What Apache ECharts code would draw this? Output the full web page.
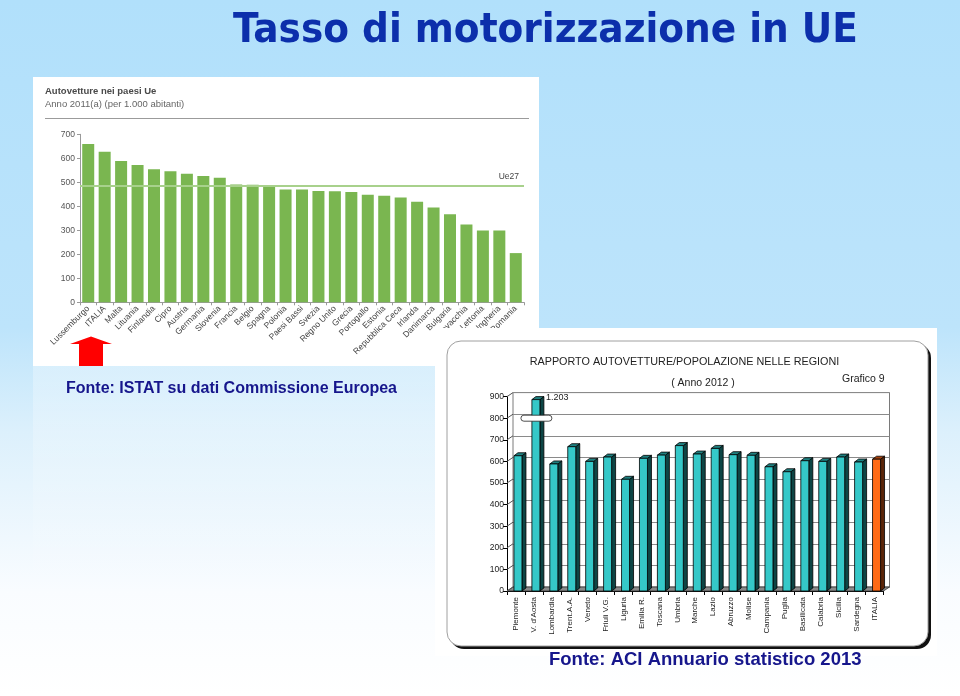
<!DOCTYPE html>
<html>
<head>
<meta charset="utf-8">
<script src="https://cdn.jsdelivr.net/npm/echarts@6/dist/echarts.min.js"></script>
<style>html,body{margin:0;padding:0;background:#fff}#c{width:960px;height:696px}</style>
</head>
<body>
<div id="c"></div>
<script>
// ---- Data: left chart (Autovetture nei paesi Ue, 2011, per 1.000 abitanti)
const euCountries = ['Lussemburgo','ITALIA','Malta','Lituania','Finlandia','Cipro','Austria','Germania','Slovenia','Francia','Belgio','Spagna','Polonia','Paesi Bassi','Svezia','Regno Unito','Grecia','Portogallo','Estonia','Repubblica Ceca','Irlanda','Danimarca','Bulgaria','Slovacchia','Lettonia','Ungheria','Romania'];
const euValues = [660, 627, 589, 572, 554, 546, 536, 526, 519, 491, 490, 486, 470, 470, 464, 463, 460, 448, 444, 437, 419, 395, 367, 324, 299, 299, 205];
const euAverage = 485;            // Ue27
const euAxisMax = 700;
const euAxisStep = 100;

// ---- Data: right chart (Rapporto autovetture/popolazione nelle regioni, 2012)
const regions = ['Piemonte',"V. d'Aosta",'Lombardia','Trent.A.A.','Veneto','Friuli V.G.','Liguria','Emilia R.','Toscana','Umbria','Marche','Lazio','Abruzzo','Molise','Campania','Puglia','Basilicata','Calabria','Sicilia','Sardegna','ITALIA'];
const regionValues = [640, 1203, 602, 682, 614, 634, 531, 628, 643, 687, 648, 674, 645, 642, 589, 566, 617, 614, 634, 611, 624];
const regionTicks = [0, 100, 200, 300, 400, 500, 600, 700, 800, 900];
const regionAxisMax = 900;
const breakValue = 800;

// ---- Style constants
const SANS = '"Liberation Sans", Arial, Helvetica, sans-serif';
const wallDx = 6, wallDy = 4;
const frontGrid = {left: 507, top: 396.6, width: 376.5, height: 194.4};

// Fit title font to target width
function fitTitleFont(text, targetWidth) {
  const cv = document.createElement('canvas').getContext('2d');
  cv.font = 'bold 100px "DejaVu Sans Condensed", monospace';
  const a = cv.measureText(text).width;
  cv.font = 'bold 100px monospace';
  const b = cv.measureText(text).width;
  let fam = (Math.abs(a - b) > 1) ? '"DejaVu Sans Condensed"' : '"Liberation Sans", Arial';
  cv.font = 'bold 100px ' + fam;
  const w = cv.measureText(text).width;
  const size = 100 * targetWidth / w;
  return 'bold ' + size.toFixed(1) + 'px ' + fam;
}
const titleText = 'Tasso di motorizzazione in UE';
const titleFont = fitTitleFont(titleText, 625);

function fmtIt(n) { return String(n).replace(/\B(?=(\d{3})+(?!\d))/g, '.'); }

function renderWalls(params, api) {
  const cs = params.coordSys;
  const t = api.value(1);
  const p = api.coord([0, t]);
  const y = p[1];
  const children = [];
  if (t === 0) {
    children.push({type: 'polygon', shape: {points: [[cs.x, y], [cs.x + wallDx, y - wallDy], [cs.x + cs.width + wallDx, y - wallDy], [cs.x + cs.width, y]]},
      style: {fill: '#8a8a8a', stroke: '#333', lineWidth: 0.8}});
  }
  children.push({type: 'line', shape: {x1: cs.x, y1: y, x2: cs.x + wallDx, y2: y - wallDy}, style: {stroke: '#555', lineWidth: 1}});
  return {type: 'group', children: children};
}

function renderRegionBar(params, api) {
  const i = api.value(0);
  const raw = api.value(1);
  const shown = Math.min(raw, regionAxisMax);
  const pTop = api.coord([i, shown]);
  const pBase = api.coord([i, 0]);
  const cx = pTop[0];
  const dx = 4, dy = 3;
  const fl = cx - 2, fr = cx + 6;
  const ft = pTop[1] + dy;
  const fb = pBase[1];
  const isItaly = regions[i] === 'ITALIA';
  const front = isItaly ? '#ff6a16' : '#35c8c8';
  const side = isItaly ? '#5a2508' : '#0d4545';
  const topc = isItaly ? '#a8420c' : '#1f8080';
  const children = [
    {type: 'polygon', shape: {points: [[fr, ft], [fr + dx, ft - dy], [fr + dx, fb - dy], [fr, fb]]}, style: {fill: side, stroke: '#000', lineWidth: 0.8}},
    {type: 'polygon', shape: {points: [[fl, ft], [fl + dx, ft - dy], [fr + dx, ft - dy], [fr, ft]]}, style: {fill: topc, stroke: '#000', lineWidth: 0.8}},
    {type: 'rect', shape: {x: fl, y: ft, width: fr - fl, height: fb - ft}, style: {fill: front, stroke: '#000', lineWidth: 0.8}}
  ];
  if (raw > regionAxisMax) {
    const pb = api.coord([i, breakValue]);
    children.push({type: 'rect', shape: {x: cx - 13, y: pb[1] - 3, width: 31, height: 6, r: 3}, style: {fill: '#fff', stroke: '#222', lineWidth: 0.8}});
    children.push({type: 'text', style: {text: fmtIt(raw), x: fr + dx + 2, y: pTop[1] + 1, fill: '#222', font: '9px ' + SANS, align: 'left', verticalAlign: 'middle'}});
  }
  return {type: 'group', children: children};
}

function txt(x, y, text, font, fill, align, z) {
  return {type: 'text', x: x, y: y, z: z, silent: true,
    style: {text: text, font: font, fill: fill, align: align || 'left', textAlign: align || 'left', verticalAlign: 'middle', textVerticalAlign: 'middle'}};
}

const chart = echarts.init(document.getElementById('c'), null, {renderer: 'canvas', width: 960, height: 696});

const option = {
  animation: false,
  backgroundColor: '#ffffff',
  graphic: {elements: [
    {type: 'rect', z: -20, silent: true, shape: {x: 0, y: 0, width: 960, height: 696},
      style: {fill: {type: 'linear', x: 0, y: 0, x2: 0, y2: 1, colorStops: [
        {offset: 0, color: '#b1e0fb'}, {offset: 0.47, color: '#bde4fb'}, {offset: 0.62, color: '#dcf0fc'},
        {offset: 0.85, color: '#f9fcff'}, {offset: 1, color: '#ffffff'}]}}},
    {type: 'rect', z: -19, silent: true, shape: {x: 33, y: 366, width: 402, height: 250},
      style: {fill: {type: 'linear', x: 0, y: 0, x2: 0, y2: 1, colorStops: [
        {offset: 0, color: 'rgba(255,255,255,0.3)'}, {offset: 1, color: 'rgba(255,255,255,0)'}]}}},
    {type: 'rect', z: -18, silent: true, shape: {x: 33, y: 77, width: 506, height: 289}, style: {fill: '#ffffff'}},
    txt(45, 91, 'Autovetture nei paesi Ue', 'bold 9.5px ' + SANS, '#4a4a4a', 'left', -9),
    txt(45, 104, 'Anno 2011(a) (per 1.000 abitanti)', '9.5px ' + SANS, '#666', 'left', -9),
    {type: 'line', z: -9, silent: true, shape: {x1: 45, y1: 118.5, x2: 529, y2: 118.5}, style: {stroke: '#9b9b9b', lineWidth: 1}},
    {type: 'polygon', z: -9, silent: true, shape: {points: [[91, 336.5], [112, 344], [103, 344], [103, 366], [79, 366], [79, 344], [70, 344]]}, style: {fill: '#ff0000'}},
    {type: 'rect', z: -5, silent: true, shape: {x: 435, y: 328, width: 502, height: 328}, style: {fill: '#ffffff'}},
    {type: 'rect', z: -4, silent: true, shape: {x: 450, y: 344, width: 481, height: 305, r: 14}, style: {fill: '#111'}},
    {type: 'rect', z: -3, silent: true, shape: {x: 447, y: 341, width: 481, height: 305, r: 14}, style: {fill: '#ffffff', stroke: '#a0a0a0', lineWidth: 1}},
    txt(684.5, 362.5, 'RAPPORTO AUTOVETTURE/POPOLAZIONE NELLE REGIONI', '10.8px ' + SANS, '#222', 'center', 5),
    txt(703, 383.5, '( Anno 2012 )', '10.5px ' + SANS, '#222', 'center', 5),
    txt(842, 379, 'Grafico 9', '10.5px ' + SANS, '#222', 'left', 5),
    txt(545.5, 31, titleText, titleFont, '#0c2fab', 'center', 10),
    txt(66, 389, 'Fonte: ISTAT su dati Commissione Europea', 'bold 16px ' + SANS, '#16168c', 'left', 10),
    txt(549, 660, 'Fonte: ACI Annuario statistico 2013', 'bold 18.5px ' + SANS, '#16168c', 'left', 10)
  ]},
  grid: [
    {left: 80, top: 134.3, width: 444, height: 168},
    {left: frontGrid.left, top: frontGrid.top, width: frontGrid.width, height: frontGrid.height},
    {left: frontGrid.left + wallDx, top: frontGrid.top - wallDy, width: frontGrid.width, height: frontGrid.height,
      show: true, borderColor: '#7a7a7a', borderWidth: 1, backgroundColor: 'rgba(0,0,0,0)'}
  ],
  xAxis: [
    {gridIndex: 0, type: 'category', data: euCountries, z: -10,
      axisLine: {lineStyle: {color: '#9a9a9a'}},
      axisTick: {show: true, length: 3, lineStyle: {color: '#9a9a9a'}},
      axisLabel: {interval: 0, rotate: 45, fontSize: 8.5, color: '#444', margin: 5, fontFamily: SANS}},
    {gridIndex: 1, type: 'category', data: regions,
      axisLine: {lineStyle: {color: '#000'}},
      axisTick: {show: true, length: 4, lineStyle: {color: '#000'}},
      axisLabel: {interval: 0, rotate: 90, fontSize: 8, color: '#222', margin: 6, fontFamily: SANS}},
    {gridIndex: 2, type: 'category', data: regions, show: false}
  ],
  yAxis: [
    {gridIndex: 0, type: 'value', min: 0, max: euAxisMax, interval: euAxisStep, z: -10,
      axisLine: {show: true, lineStyle: {color: '#9a9a9a'}},
      axisTick: {show: true, length: 3, lineStyle: {color: '#9a9a9a'}},
      splitLine: {show: false},
      axisLabel: {fontSize: 8.5, color: '#555', margin: 5, fontFamily: SANS}},
    {gridIndex: 1, type: 'value', min: 0, max: regionAxisMax, interval: 100,
      axisLine: {show: true, lineStyle: {color: '#000'}},
      axisTick: {show: true, length: 4, lineStyle: {color: '#000'}},
      splitLine: {show: false},
      axisLabel: {fontSize: 8.5, color: '#222', margin: 3, fontFamily: SANS}},
    {gridIndex: 2, type: 'value', min: 0, max: regionAxisMax, interval: 100,
      axisLine: {show: false}, axisTick: {show: false}, axisLabel: {show: false},
      splitLine: {show: true, lineStyle: {color: '#8a8a8a', width: 1}}}
  ],
  series: [
    {type: 'bar', xAxisIndex: 0, yAxisIndex: 0, data: euValues, barCategoryGap: '27%',
      itemStyle: {color: '#7ab650'}, silent: true,
      markLine: {symbol: 'none', silent: true, animation: false,
        lineStyle: {color: '#a8d18c', width: 2, type: 'solid'},
        label: {show: true, formatter: 'Ue27', position: 'insideEndTop', color: '#444', fontSize: 8.5, fontFamily: SANS},
        data: [{yAxis: euAverage, name: 'Ue27'}]}},
    {type: 'custom', xAxisIndex: 1, yAxisIndex: 1, z: 1, silent: true,
      data: regionTicks.map(t => [0, t]), renderItem: renderWalls},
    {type: 'custom', xAxisIndex: 1, yAxisIndex: 1, z: 2, silent: true,
      data: regionValues.map((v, i) => [i, v]), renderItem: renderRegionBar}
  ]
};
chart.setOption(option);
</script>
</body>
</html>
